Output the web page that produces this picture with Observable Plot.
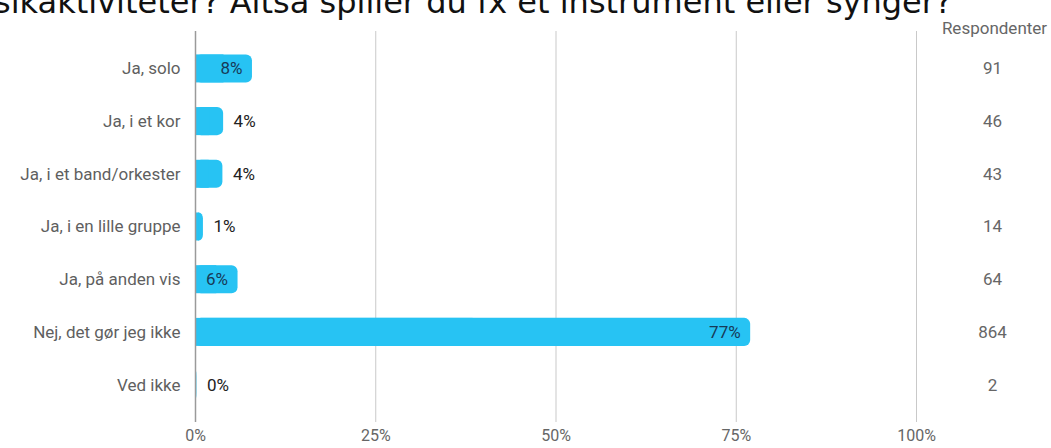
<!DOCTYPE html>
<html>
<head>
<meta charset="utf-8">
<script src="https://cdn.jsdelivr.net/npm/d3@7"></script>
<script src="https://cdn.jsdelivr.net/npm/@observablehq/plot@0.6"></script>
<style>
  html, body { margin: 0; padding: 0; background: #fff; overflow: hidden; }
  #wrap { position: relative; width: 1051px; height: 448px; }
  #title { position: absolute; left: -6px; top: -16px; white-space: nowrap;
           font-family: "DejaVu Sans", sans-serif; font-size: 32px; line-height: 36px; color: #111; }
  #chart { position: absolute; left: 0; top: 0; }
</style>
</head>
<body>
<div id="wrap">
  <div id="chart"></div>
  <div id="title">sikaktiviteter? Altså spiller du fx et instrument eller synger?</div>
</div>
<script>
const categories = ["Ja, solo", "Ja, i et kor", "Ja, i et band/orkester", "Ja, i en lille gruppe", "Ja, på anden vis", "Nej, det gør jeg ikke", "Ved ikke"];
const percents = [7.9, 3.9, 3.8, 1.1, 5.9, 77.0, 0.2];
const pctLabels = ["8%", "4%", "4%", "1%", "6%", "77%", "0%"];
const counts = ["91", "46", "43", "14", "64", "864", "2"];
const xTicks = [0, 25, 50, 75, 100];
const columnHeader = "Respondenter";

const data = categories.map((c, i) => ({cat: categories[i], v: percents[i], lab: pctLabels[i], n: counts[i], inside: percents[i] >= 5}));

const barColor = "#27c3f3";
const font = "Roboto, sans-serif";

const chart = Plot.plot({
  width: 1051,
  height: 448,
  marginLeft: 195,
  marginRight: 135,
  marginTop: 31,
  marginBottom: 26,
  style: {fontFamily: font, fontSize: "17px", color: "#5f5f5f", background: "#fff"},
  x: {domain: [0, 100], label: null, axis: null},
  y: {domain: categories, paddingInner: 0.468, paddingOuter: 0.444, round: false, label: null, axis: null},
  marks: [
    Plot.gridX(xTicks, {stroke: "#c9c9c9", strokeOpacity: 1, strokeWidth: 1}),
    Plot.barX(data, {y: "cat", x1: 0, x2: "v", fill: barColor, rx: 6}),
    Plot.barX(data, {y: "cat", x1: 0, x2: d => d.v / 2, fill: barColor}),
    Plot.ruleX([0], {stroke: "#9a9a9a", strokeWidth: 1.5}),
    Plot.axisX(xTicks, {tickFormat: d => d + "%", tickSize: 0, tickPadding: 7, fontSize: 16, fill: "#666", label: null}),
    Plot.axisY({tickSize: 0, tickPadding: 15, fontSize: 17, fill: "#5f5f5f"}),
    Plot.text(data.filter(d => d.inside), {y: "cat", x: "v", text: "lab", textAnchor: "end", dx: -10, fill: "#173a58", fontSize: 17}),
    Plot.text(data.filter(d => !d.inside), {y: "cat", x: "v", text: "lab", textAnchor: "start", dx: 10, fill: "#222", fontSize: 17}),
    Plot.text(data, {y: "cat", text: "n", frameAnchor: "right", dx: 76, textAnchor: "middle", fill: "#666", fontSize: 17}),
    Plot.text([columnHeader], {text: d => d, frameAnchor: "top-right", dx: 78, dy: -9.5, textAnchor: "middle", fill: "#666", fontSize: 17})
  ]
});
document.getElementById("chart").appendChild(chart);
</script>
</body>
</html>
